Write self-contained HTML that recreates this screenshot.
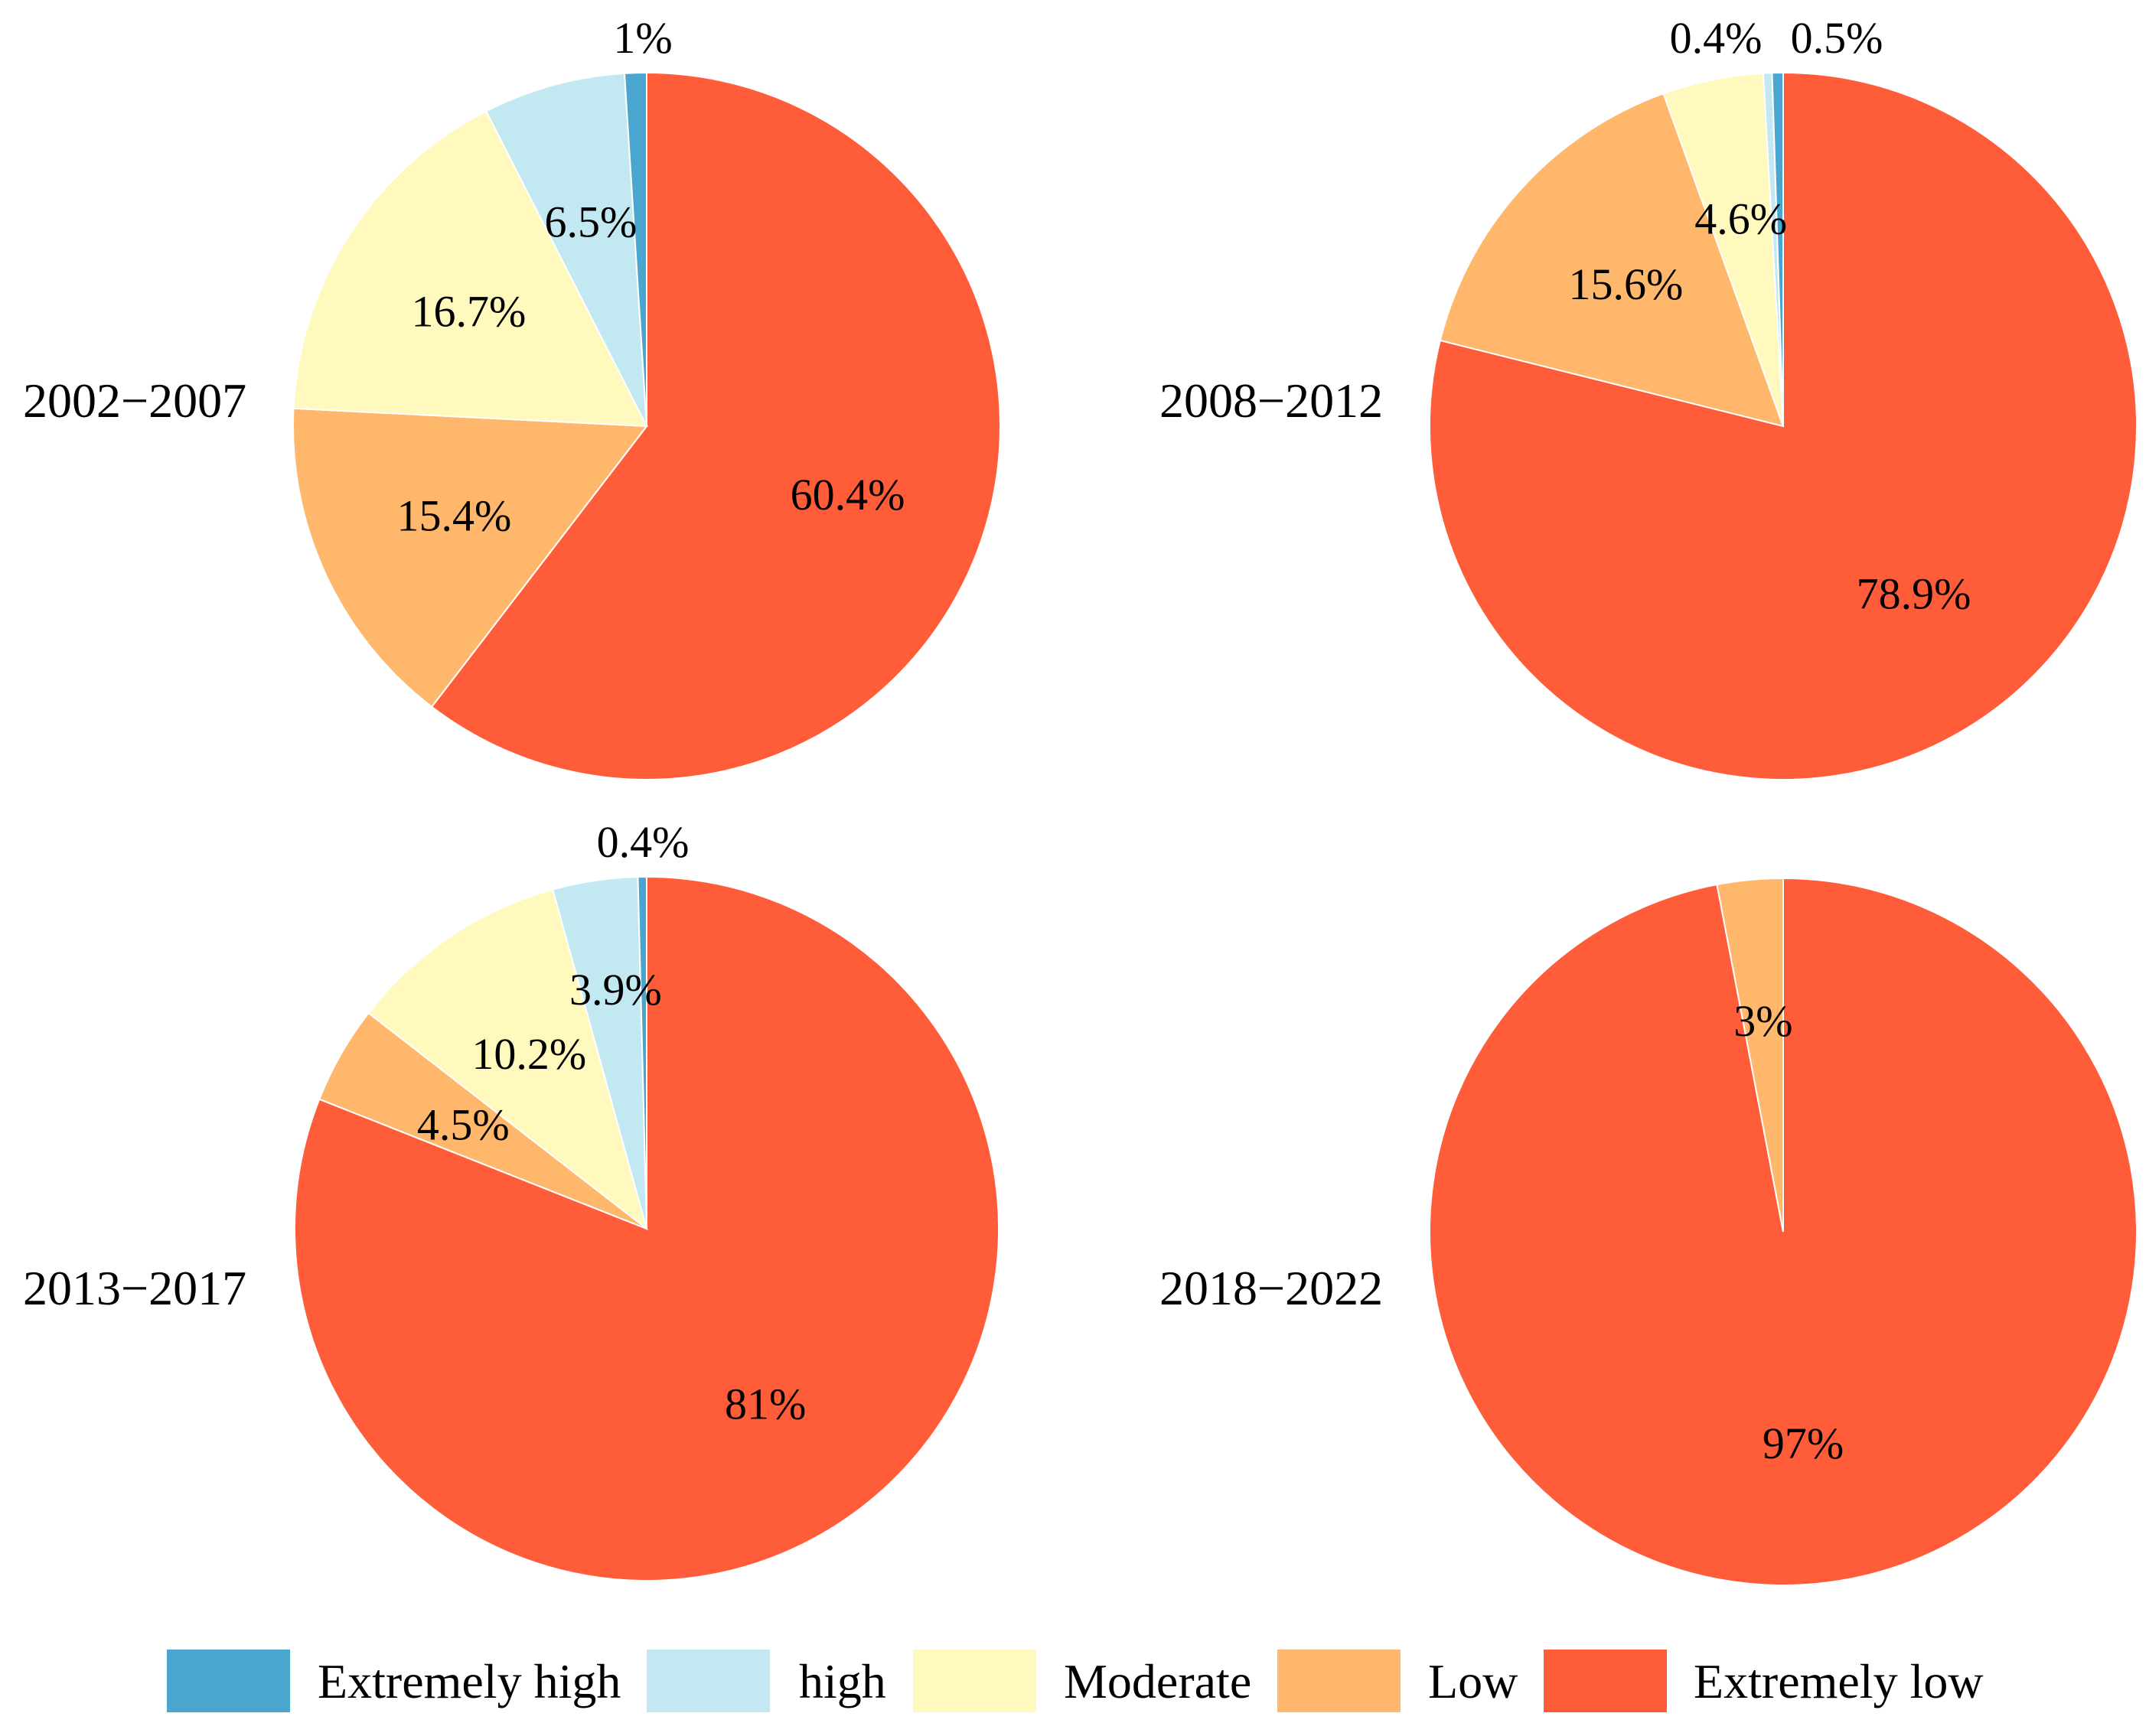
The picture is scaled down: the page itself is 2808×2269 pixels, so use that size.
<!DOCTYPE html>
<html><head><meta charset="utf-8"><style>
html,body{margin:0;padding:0;background:#fff;}
svg{display:block;font-family:"Liberation Serif",serif;}
</style></head><body>
<svg id="chart" width="2808" height="2269" viewBox="0 0 2808 2269"></svg>
<script>
const categories = ["Extremely low","Low","Moderate","high","Extremely high"];
const periods = ["2002\u22122007","2008\u22122012","2013\u22122017","2018\u22122022"];
const values2002 = [60.4,15.4,16.7,6.5,1];
const values2008 = [78.9,15.6,4.6,0.4,0.5];
const values2013 = [81,4.5,10.2,3.9,0.4];
const values2018 = [97,3,0,0,0];
const labels2002 = ["60.4%","15.4%","16.7%","6.5%","1%"];
const labels2008 = ["78.9%","15.6%","4.6%","0.4%","0.5%"];
const labels2013 = ["81%","4.5%","10.2%","3.9%","0.4%"];
const labels2018 = ["97%","3%","","",""];
const legendOrder = ["Extremely high","high","Moderate","Low","Extremely low"];

const colors = {"Extremely low":"#FF5C3A","Low":"#FFB86B","Moderate":"#FFF9BE","high":"#C2E8F2","Extremely high":"#4AA6CF"};
const NS="http://www.w3.org/2000/svg";
const svg=document.getElementById('chart');
function mk(t,a){const e=document.createElementNS(NS,t);for(const k in a)e.setAttribute(k,a[k]);return e;}

const pies=[
 {vals:values2002,labs:labels2002,cx:845,cy:557,r:462,tx:30,ty:545,adj:{}},
 {vals:values2008,labs:labels2008,cx:2330,cy:557,r:462,tx:1515,ty:545,adj:{}},
 {vals:values2013,labs:labels2013,cx:845,cy:1606,r:460,tx:30,ty:1705,adj:{3:-40}},
 {vals:values2018,labs:labels2018,cx:2330,cy:1610,r:462,tx:1515,ty:1705,adj:{}}
];
pies.forEach((p,pi)=>{
  const g=mk('g',{});
  
  
  svg.appendChild(g);
  const total=p.vals.reduce((a,b)=>a+b,0);
  let acc=0;
  const smalls=[];
  p.vals.forEach((v,i)=>{
    if(v<=0)return;
    const a0=acc/total*2*Math.PI; acc+=v; const a1=acc/total*2*Math.PI;
    const pt=a=>[p.cx+p.r*Math.sin(a),p.cy-p.r*Math.cos(a)];
    const [x0,y0]=pt(a0),[x1,y1]=pt(a1);
    const large=(a1-a0)>Math.PI?1:0;
    let d;
    if(v>=total) d=`M${p.cx-p.r},${p.cy}a${p.r},${p.r} 0 1,0 ${2*p.r},0a${p.r},${p.r} 0 1,0 ${-2*p.r},0`;
    else d=`M${p.cx},${p.cy}L${x0},${y0}A${p.r},${p.r} 0 ${large} 1 ${x1},${y1}Z`;
    const path=mk('path',{d:d,fill:colors[categories[i]],stroke:'#fff','stroke-width':2});
    
    
    g.appendChild(path);
    const am=(a0+a1)/2;
    let lx,ly;
    if(v<=1){ smalls.push(i); const k=smalls.length; const n=p.vals.filter(x=>x>0&&x<=1).length;
      lx=p.cx-(n>1?(k===1?88:-70):5); ly=p.cy-p.r-26; }
    else { lx=p.cx+0.6*p.r*Math.sin(am); ly=p.cy-0.6*p.r*Math.cos(am)+20+(p.adj[i]||0); }
    const t=mk('text',{x:lx,y:ly,'text-anchor':'middle','font-size':58,fill:'#000'});
    t.textContent=p.labs[i];
    
    
    svg.appendChild(t);
  });
  const tt=mk('text',{x:p.tx,y:p.ty,'font-size':64,fill:'#000'});
  tt.textContent=periods[pi];
  
  
  svg.appendChild(tt);
});
const boxX=[218,845,1193,1669,2017], textX=[415,1044,1390,1866,2213];
legendOrder.forEach((c,i)=>{
  const r=mk('rect',{x:boxX[i],y:2156,width:161,height:82,fill:colors[c]});
  
  
  svg.appendChild(r);
  const t=mk('text',{x:textX[i],y:2219,'font-size':64,fill:'#000'});
  t.textContent=c;
  
  
  svg.appendChild(t);
});
</script>
</body></html>
